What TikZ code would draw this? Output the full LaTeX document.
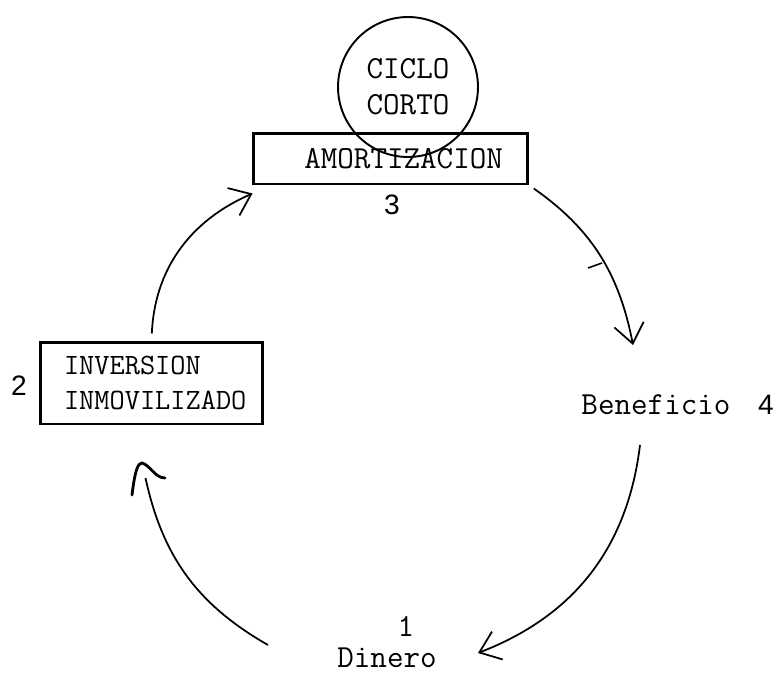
\documentclass[tikz,border=0pt]{standalone}
\usepackage{fontspec}
\usepackage{tikz}
\usepackage{xcolor}
\newfontfamily\numfont{Liberation Sans}
\usetikzlibrary{calc}
\usetikzlibrary{arrows.meta}

\begin{document}
\begin{tikzpicture}[x=0.02cm,y=-0.02cm]

\tikzset{
    caja/.style = {
    draw,
    line width=1.7pt,
    inner ysep=0pt
    }
}

\tikzstyle{texto}=[font=\ttfamily\fontsize{18.3}{20.5}\selectfont]
\tikzstyle{numero}=[font=\numfont\fontsize{16}{18}\selectfont, inner sep=0pt]
\tikzstyle{flecha}=[line width=1pt, -{Straight Barb[length=11pt,width=17pt]}]

\useasboundingbox (0,0) rectangle (774,676);

\node (ciclo) [draw, circle, line width=1.1pt, minimum size=2.8cm, align=center, texto] at (408,87) {CICLO\\CORTO};

\node (e-3) [caja, texto, minimum height=1.02cm, text width=4.5cm, inner xsep=0.5cm, align=right] at (390.5,158.5) {AMORTIZACION};
\node (e-2) [caja, font=\ttfamily\fontsize{16.8}{19.4}\selectfont, minimum height=1.64cm, text width=3.5cm, inner xsep=0.48cm, align=left] at (151.5,383) {INVERSION\\INMOVILIZADO};
\node (e-4) [texto, inner sep=0pt] at (656,405) {Beneficio};
\node (e-1) [texto, inner sep=0pt] at (387,658) {Dinero};

\node (n-3) [numero] at (392,205) {3};
\node (n-2) [numero] at (19,386) {2};
\node (n-4) [numero] at (766,405) {4};
\node (n-1) [texto, inner sep=0pt] at (406,626) {1};

\draw [flecha, shorten <=4pt] (e-2.north) to[bend left=32] ([shift={(1,8)}]e-3.south west);
\draw [flecha, shorten <=3pt] (e-3.south east) to[bend left=22] ([shift={(-23,-60)}]e-4.center);
\draw [flecha] ([shift={(-16,40)}]e-4.center) to[bend left=31] ([shift={(91,-5)}]e-1.center);
\draw [line width=1pt] ([shift={(-119,-13)}]e-1.center) to[bend left=24] ([shift={(-6,95)}]e-2.center);

% punta de la ultima flecha
\draw [line width=1.6pt, line cap=round] (132,495) .. controls (135,470) and (138,463) .. (142,463) .. controls (150,465) and (155,478) .. (165,478);
\draw [line width=0.9pt] (588,268) -- (602,263);

\end{tikzpicture}
\end{document}
